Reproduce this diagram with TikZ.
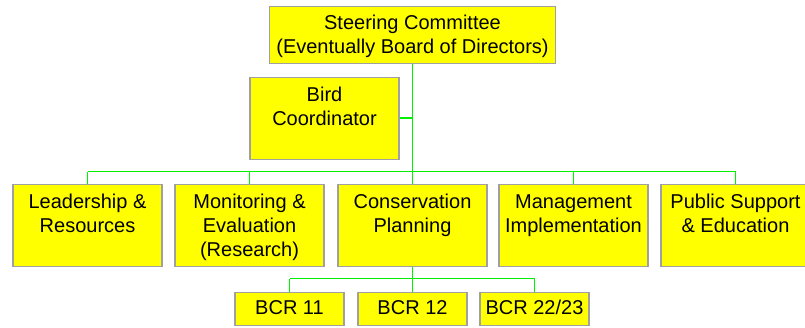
\documentclass[tikz,border=0pt]{standalone}
\usepackage{fontspec}
\setmainfont{Liberation Sans}
\usepackage{xcolor}
\usetikzlibrary{positioning,calc}

\definecolor{boxfill}{HTML}{FFFF00}
\definecolor{boxline}{HTML}{A0A0A0}
\definecolor{linkgreen}{HTML}{00F000}

\begin{document}
\begin{tikzpicture}[
  x=1pt, y=-1pt,
  box/.style={draw=boxline, line width=1.2pt, fill=boxfill, inner sep=0pt, align=center,
    font=\fontsize{20}{24}\selectfont},
  % three text lines, the last one may be left empty
  unit/.style={box, minimum width=149pt, text height=72pt, text depth=10pt},
  topbox/.style={box, minimum width=286pt, text height=47pt, text depth=10pt},
  bcr/.style={box, minimum width=109pt, text height=22pt, text depth=11pt},
  link/.style={draw=linkgreen, line width=1.3pt}
]
  \useasboundingbox (0,0) rectangle (805,327);

  % bus lines
  \coordinate (bus) at (0,171.5);
  \coordinate (sub) at (0,278.5);

  \node[topbox, anchor=north] (steer) at (412.5,6) {Steering Committee\\(Eventually Board of Directors)};
  \node[unit, anchor=north] (bird) at (324.5,76.5) {Bird\\Coordinator\\\mbox{}};

  \node[unit, anchor=north] (lead) at (87.5,184) {Leadership \&\\Resources\\\mbox{}};
  \node[unit, anchor=north] (mon)  at (249.5,184) {Monitoring \&\\Evaluation\\(Research)};
  \node[unit, anchor=north] (cons) at (412.5,184) {Conservation\\Planning\\\mbox{}};
  \node[unit, anchor=north] (mgmt) at (573.5,184) {Management\\Implementation\\\mbox{}};
  \node[unit, anchor=north] (pub)  at (735.5,184) {Public Support\\\& Education\\\mbox{}};

  \node[bcr, anchor=north] (b11)   at (289.5,292) {BCR 11};
  \node[bcr, anchor=north] (b12)   at (412.5,292) {BCR 12};
  \node[bcr, anchor=north] (b2223) at (534.5,292) {BCR 22/23};

  % connectors
  \draw[link] (steer.south) -- (steer.south |- bus);
  \draw[link] (bird.east) -- (bird.east -| steer.south);
  \draw[link] (bus -| lead) -- (bus -| pub);
  \foreach \n in {lead,mon,cons,mgmt,pub}
    \draw[link] (\n.north) -- (\n.north |- bus);
  \draw[link] (cons.south) -- (cons.south |- sub);
  \draw[link] (sub -| b11) -- (sub -| b2223);
  \foreach \n in {b11,b12,b2223}
    \draw[link] (\n.north) -- (\n.north |- sub);
\end{tikzpicture}
\end{document}
